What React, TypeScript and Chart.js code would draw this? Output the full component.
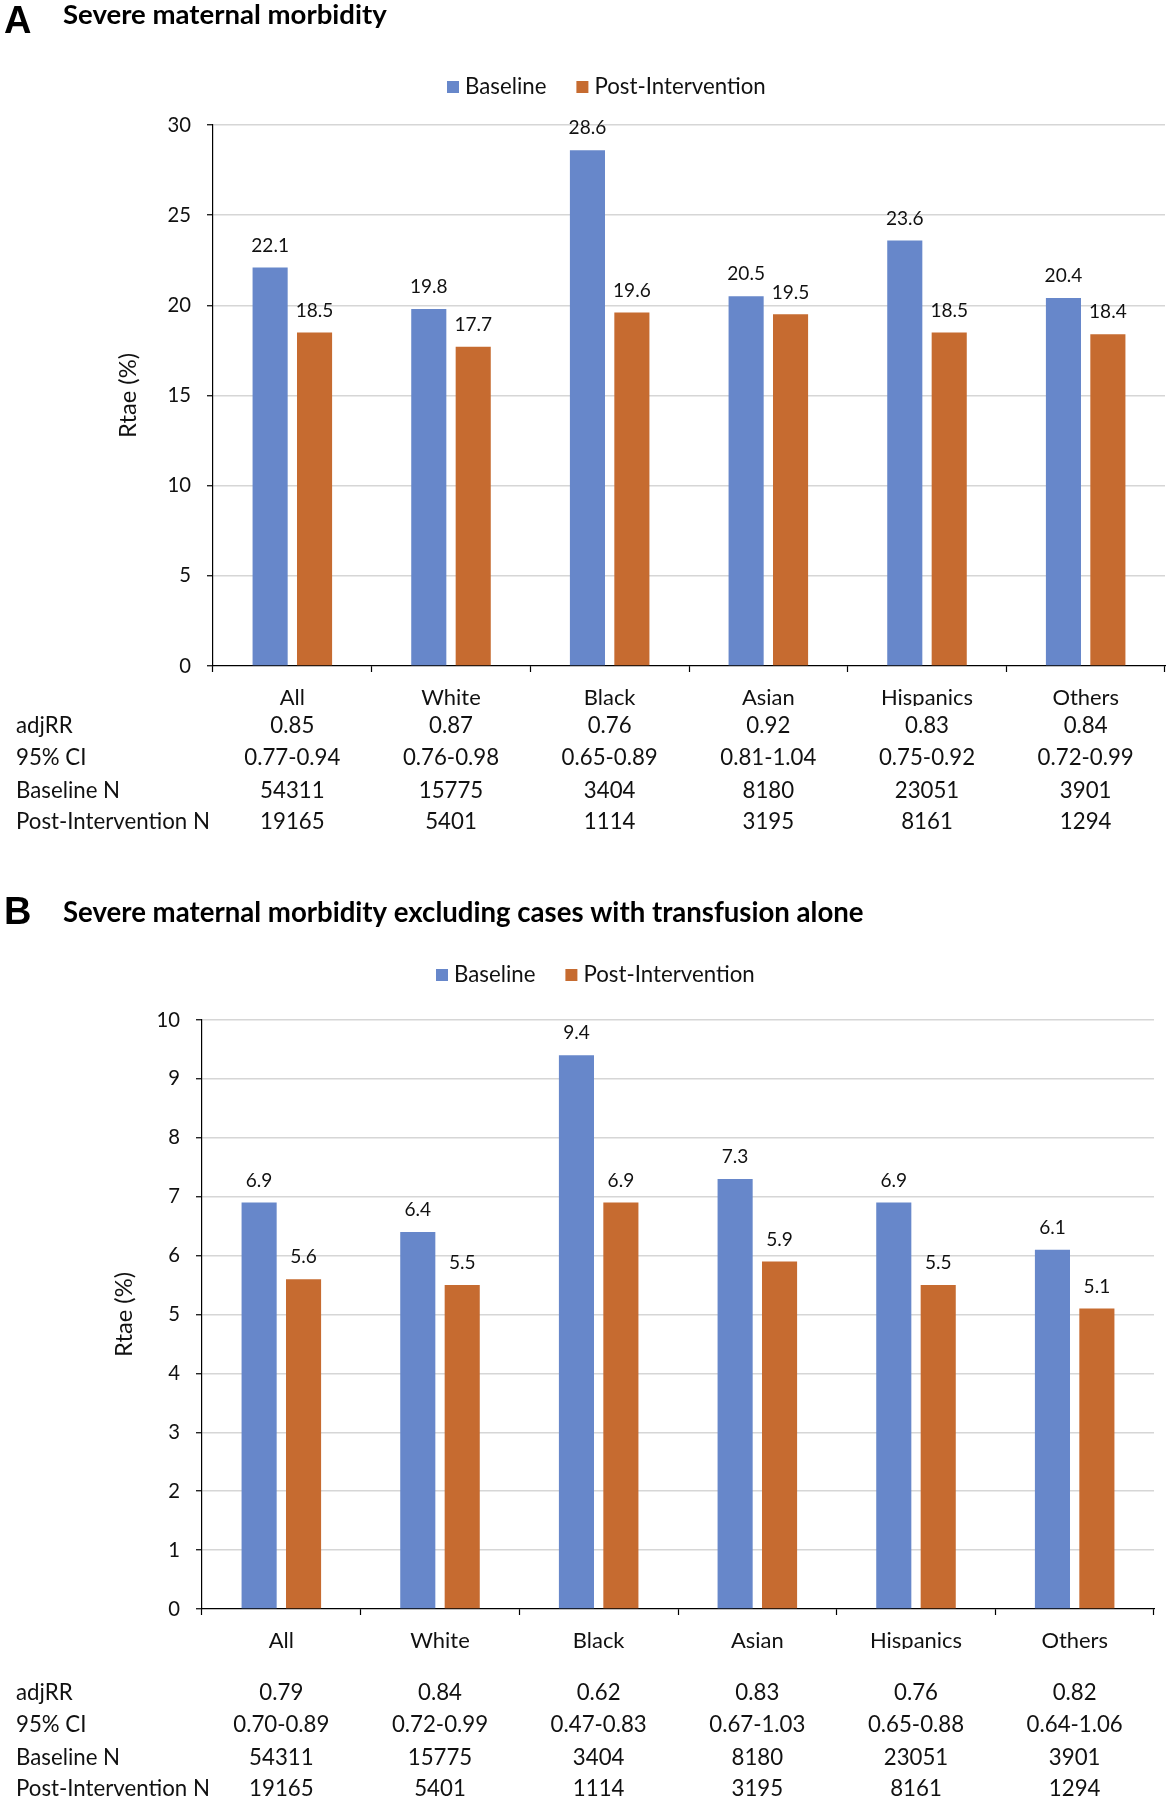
import React, { useEffect, useRef } from 'react';
import { Chart, registerables } from 'chart.js';

Chart.register(...registerables);

// ---------- data ----------
const categories = ['All', 'White', 'Black', 'Asian', 'Hispanics', 'Others'];
const seriesNames = ['Baseline', 'Post-Intervention'];

const smmBaseline = [22.1, 19.8, 28.6, 20.5, 23.6, 20.4];
const smmPost = [18.5, 17.7, 19.6, 19.5, 18.5, 18.4];
const smmAdjRR = ['0.85', '0.87', '0.76', '0.92', '0.83', '0.84'];
const smmCI = ['0.77-0.94', '0.76-0.98', '0.65-0.89', '0.81-1.04', '0.75-0.92', '0.72-0.99'];

const exBaseline = [6.9, 6.4, 9.4, 7.3, 6.9, 6.1];
const exPost = [5.6, 5.5, 6.9, 5.9, 5.5, 5.1];
const exAdjRR = ['0.79', '0.84', '0.62', '0.83', '0.76', '0.82'];
const exCI = ['0.70-0.89', '0.72-0.99', '0.47-0.83', '0.67-1.03', '0.65-0.88', '0.64-1.06'];

const baselineN = ['54311', '15775', '3404', '8180', '23051', '3901'];
const postN = ['19165', '5401', '1114', '3195', '8161', '1294'];

const rowLabels = ['adjRR', '95% CI', 'Baseline N', 'Post-Intervention N'];
const yAxisTitle = 'Rtae (%)';

const titleA = 'Severe maternal morbidity';
const titleB = 'Severe maternal morbidity excluding cases with transfusion alone';
const yMaxA = 30;
const yStepA = 5;
const yMaxB = 10;
const yStepB = 1;

// ---------- style ----------
const FONT = 'Lato, "Open Sans", sans-serif';
const LETTER_FONT = '"Liberation Sans", Arial, sans-serif';
const BLUE = '#6787CA';
const ORANGE = '#C66B30';
const TEXT = '#111111';

function fitSize(text: string, target: number, weight = 'normal', family = FONT) {
  const c = document.createElement('canvas');
  const ctx = c.getContext('2d')!;
  ctx.font = `${weight} 100px ${family}`;
  const w = ctx.measureText(text).width;
  return (100 * target) / w;
}

type PanelProps = {
  letter: string;
  title: string;
  baseline: number[];
  post: number[];
  rows: string[][];
  yMax: number;
  yStep: number;
  top: number;
  height: number;
  areaLeft: number;
  areaRight: number;
  areaTop: number;
  areaBottom: number;
  letterBase: number;
  titleBase: number;
  titleWidth: number;
  legendY: number;
  yTitleX: number;
  rowOffsets: number[];
};

function Panel(p: PanelProps) {
  const ref = useRef<HTMLCanvasElement>(null);
  useEffect(() => {
    const canvas = ref.current!;
    const W = 1168;
    const bodySize = fitSize('Post-Intervention N', 194);
    const catSize = fitSize('Hispanics', 92);
    const tickSize = fitSize('30', 23.5);
    const labelSize = fitSize('22.1', 37.7);
    const yTitleSize = fitSize(yAxisTitle, 85);
    const titleSize = fitSize(p.title, p.titleWidth, 'bold');
    const letterSize = 38;
    const xHeight = 40;

    const overlay = {
      id: 'overlay',
      afterDraw(chart: any) {
        const ctx: CanvasRenderingContext2D = chart.ctx;
        const area = chart.chartArea;
        const xs = chart.scales.x;
        ctx.save();
        ctx.fillStyle = '#000';
        ctx.textAlign = 'left';
        ctx.textBaseline = 'alphabetic';
        ctx.font = `bold ${letterSize}px ${LETTER_FONT}`;
        ctx.fillText(p.letter, 4, p.letterBase);
        ctx.font = `bold ${titleSize}px ${FONT}`;
        ctx.fillText(p.title, 63, p.titleBase);

        // legend
        ctx.font = `${bodySize}px ${FONT}`;
        ctx.textBaseline = 'middle';
        let lx = area.left + 234;
        const colors = [BLUE, ORANGE];
        seriesNames.forEach((name, i) => {
          ctx.fillStyle = colors[i];
          ctx.fillRect(lx, p.legendY - 6, 12, 12);
          ctx.fillStyle = TEXT;
          ctx.fillText(name, lx + 18, p.legendY);
          lx += 18 + ctx.measureText(name).width + 30;
        });

        // data labels
        ctx.font = `${labelSize}px ${FONT}`;
        ctx.textAlign = 'center';
        ctx.fillStyle = TEXT;
        chart.data.datasets.forEach((ds: any, di: number) => {
          const meta = chart.getDatasetMeta(di);
          meta.data.forEach((bar: any, i: number) => {
            ctx.fillText(Number(ds.data[i]).toFixed(1), bar.x, bar.y - 22);
          });
        });

        // table
        ctx.font = `${bodySize}px ${FONT}`;
        p.rows.forEach((row, r) => {
          const y = area.bottom + p.rowOffsets[r];
          ctx.textAlign = 'left';
          ctx.fillText(rowLabels[r], 16, y);
          ctx.textAlign = 'center';
          row.forEach((v, i) => ctx.fillText(v, xs.getPixelForValue(i), y));
        });
        ctx.restore();
      },
    };

    const chart = new Chart(canvas, {
      type: 'bar',
      data: {
        labels: categories,
        datasets: [
          { label: seriesNames[0], data: p.baseline, backgroundColor: BLUE },
          { label: seriesNames[1], data: p.post, backgroundColor: ORANGE },
        ],
      },
      options: {
        responsive: false,
        animation: false,
        devicePixelRatio: 1,
        events: [],
        layout: {
          padding: {
            left: 0,
            top: p.areaTop,
            right: W - p.areaRight,
            bottom: p.height - p.areaBottom - xHeight,
          },
        },
        datasets: {
          bar: { categoryPercentage: 0.56, barPercentage: 0.79 },
        },
        plugins: {
          legend: { display: false },
          title: { display: false },
          tooltip: { enabled: false },
        },
        scales: {
          x: {
            afterFit: (s: any) => {
              s.height = xHeight;
            },
            grid: {
              display: true,
              drawOnChartArea: false,
              drawTicks: true,
              tickLength: 6,
              tickColor: '#000',
              tickWidth: 1.2,
              offset: true,
            },
            border: { display: true, color: '#000', width: 1.2 },
            ticks: {
              color: TEXT,
              font: { family: FONT, size: catSize },
              padding: 13,
              maxRotation: 0,
              autoSkip: false,
            },
          },
          y: {
            min: 0,
            max: p.yMax,
            afterFit: (s: any) => {
              s.width = p.areaLeft;
            },
            ticks: {
              stepSize: p.yStep,
              color: TEXT,
              font: { family: FONT, size: tickSize },
              padding: 16,
            },
            grid: {
              color: (c: any) => (c.tick && c.tick.value === 0 ? 'rgba(0,0,0,0)' : '#D6D6D6'),
              lineWidth: 1.5,
              drawTicks: true,
              tickLength: 6,
              tickColor: '#000',
              tickWidth: 1.2,
            },
            border: { display: true, color: '#000', width: 1.2 },
            title: {
              display: true,
              text: yAxisTitle,
              color: TEXT,
              font: { family: FONT, size: yTitleSize },
              padding: { top: p.yTitleX - (yTitleSize * 1.2) / 2, bottom: 0 },
            },
          },
        },
      },
      plugins: [overlay],
    });
    return () => chart.destroy();
  }, []);
  return (
    <canvas
      ref={ref}
      width={1168}
      height={p.height}
      style={{ position: 'absolute', left: 0, top: p.top, width: 1168, height: p.height }}
    />
  );
}

export default function App() {
  return (
    <div
      style={{
        position: 'absolute',
        left: 0,
        top: 0,
        width: 1168,
        height: 1800,
        background: '#fff',
        overflow: 'hidden',
      }}
    >
      <Panel
        letter="A"
        title={titleA}
        baseline={smmBaseline}
        post={smmPost}
        rows={[smmAdjRR, smmCI, baselineN, postN]}
        yMax={yMaxA}
        yStep={yStepA}
        top={0}
        height={850}
        areaLeft={213}
        areaRight={1165}
        areaTop={125}
        areaBottom={666}
        letterBase={33}
        titleBase={24}
        titleWidth={324}
        legendY={87}
        yTitleX={128}
        rowOffsets={[60, 92, 125, 156]}
      />
      <Panel
        letter="B"
        title={titleB}
        baseline={exBaseline}
        post={exPost}
        rows={[exAdjRR, exCI, baselineN, postN]}
        yMax={yMaxB}
        yStep={yStepB}
        top={850}
        height={950}
        areaLeft={202}
        areaRight={1154}
        areaTop={170}
        areaBottom={759}
        letterBase={74}
        titleBase={72}
        titleWidth={801}
        legendY={125}
        yTitleX={124}
        rowOffsets={[84, 116, 149, 180]}
      />
    </div>
  );
}
